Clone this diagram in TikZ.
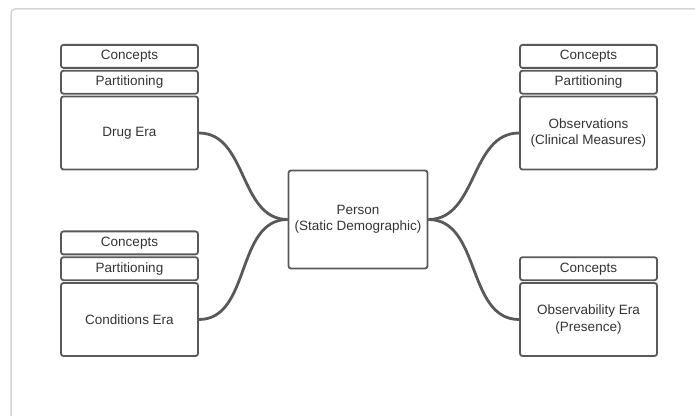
\documentclass[tikz,border=0pt]{standalone}
\usepackage{fontspec}
\setmainfont{Liberation Sans}
\usetikzlibrary{positioning}
\definecolor{linegray}{HTML}{595959}
\definecolor{textgray}{HTML}{333333}
\definecolor{framegray}{HTML}{D4D4D4}
\begin{document}
\begin{tikzpicture}[x=1pt, y=1pt, node distance={1pt},
  box/.style = {draw=linegray, line width=1.8pt, rounded corners=2.5pt, text=textgray, font=\fontsize{13.5}{16.5}\selectfont, align=center, minimum width=137pt, inner sep=0pt},
  head/.style = {box, minimum height=23pt},
  era/.style = {box, minimum height=73pt},
  link/.style = {draw=linegray, line width=2.8pt}]
\useasboundingbox (0,0) rectangle (695,415);
\draw[framegray, line width=1.5pt, rounded corners=4pt] (11,-30) rectangle (730,406);
\node[box, minimum width=139pt, minimum height=98pt] (person) at (358,195.5) {Person\\(Static Demographic)};
\node[era] (drug) at (129.5,282) {Drug Era};
\node[head] (drugpart) [above=of drug] {Partitioning};
\node[head] (drugconc) [above=of drugpart] {Concepts};
\node[era] (cond) at (129.5,95.5) {Conditions Era};
\node[head] (condpart) [above=of cond] {Partitioning};
\node[head] (condconc) [above=of condpart] {Concepts};
\node[era] (obs) at (588.5,282) {Observations\\(Clinical Measures)};
\node[head] (obspart) [above=of obs] {Partitioning};
\node[head] (obsconc) [above=of obspart] {Concepts};
\node[era] (presence) at (588.5,95.5) {Observability Era\\(Presence)};
\node[head] (presconc) [above=of presence] {Concepts};
\draw[link] (drug.east) to[out=0, in=180] (person.west);
\draw[link] (cond.east) to[out=0, in=180] (person.west);
\draw[link] (person.east) to[out=0, in=180] (obs.west);
\draw[link] (person.east) to[out=0, in=180] (presence.west);
\end{tikzpicture}
\end{document}
